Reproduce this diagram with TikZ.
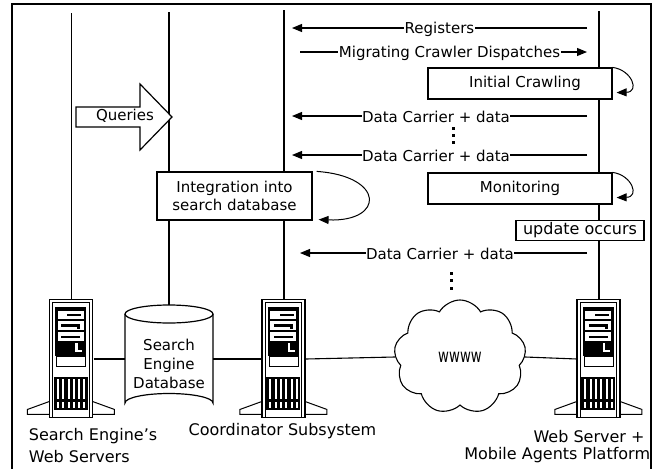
\documentclass[tikz,border=0pt]{standalone}
\usepackage{fontspec}
\setmainfont{DejaVu Sans}
\usetikzlibrary{arrows.meta,shapes.symbols,calc}
\tikzset{
  pics/serverpic/.style={code={
    % feet
    \draw[line width=1pt] (0,102) -- (-22,110) -- (-22,115) -- (0,115);
    \draw[line width=1pt] (43,102) -- (65,110) -- (65,115) -- (43,115);
    % case
    \draw[line width=1.2pt, fill=white] (0,0) rectangle (43,118);
    \draw[line width=0.9pt] (3.3,118) -- (3.3,3.3) -- (39.7,3.3) -- (39.7,118);
    % upper panel
    \fill (6,8) rectangle (37,57);
    \fill[white] (8.5,11.5) rectangle (34.5,20);
    \fill[white] (8.5,22) rectangle (34.5,30.5);
    \fill[white] (8.5,33) rectangle (34.5,41.5);
    \fill (18,14.5) rectangle (32,17);
    \fill (12,25) rectangle (31,27.5);
    \fill (28,27.5) rectangle (31,29.5);
    \fill (12,36.5) rectangle (31,39);
    \fill[white] (26,44) rectangle (28.5,53);
    \fill[white] (26,51) rectangle (33,53);
    \draw[line width=0.9pt, fill=white] (7,57) rectangle (36,67);
    % grille
    \fill (4.5,78) rectangle (38.5,111);
    \foreach \i in {0,...,5}{
      \fill[white] ({7.5+5.3*\i},80) rectangle ({9.5+5.3*\i},100);
      \fill[white] ({7.5+5.3*\i},103) rectangle ({9.5+5.3*\i},109);
    }
  }}
}
\begin{document}
\begin{tikzpicture}[x=1pt,y=-1pt, line width=1.1pt,
  lbl/.style={font=\fontsize{15}{18}\selectfont},
  bigl/.style={font=\fontsize{16}{22}\selectfont},
  holder/.style={draw=none, minimum width=43, minimum height=118, inner sep=0},
  box/.style={draw, fill=white, line width=1.2pt, lbl, inner sep=0pt, align=center},
  msg/.style={-{Triangle[length=10pt,width=8pt]}},
  tag/.style={lbl, fill=white, inner sep=0.6pt},
  loopar/.style={line width=1pt, -{Triangle[length=10pt,width=8pt]}}
]
\fill[white] (0,0) rectangle (654,469);
\useasboundingbox (0,0) rectangle (654,469);

% anchors for the big pieces
\node[holder] (srv1) at (71.5,359) {};
\node[holder] (srv2) at (284,359) {};
\node[holder] (srv3) at (599,359) {};
\coordinate (dbtop) at (169,305);
\coordinate (dbw) at (125,359);
\coordinate (dbe) at (213,359);

% lifelines
\coordinate (t1) at (71.5,13);
\coordinate (t2) at (169,12);
\coordinate (t3) at (284,10);
\coordinate (t4) at (599,11);
\draw (t1) -- (srv1.north);
\draw (t2) -- (dbtop);
\draw (t3) -- (srv2.north);
\draw (t4) -- (srv3.north);

% queries block arrow
\draw[line width=1.2pt, fill=white] (76,107) -- (140,107) -- (140,84) -- (172,117) -- (140,150) -- (140,127) -- (76,127) -- cycle;
\node[lbl] (q) at (125,116) {Queries};

% boxes
\node[box, minimum width=155, minimum height=48] (integ) at (234.5,196) {Integration into\\search database};
\node[box, minimum width=184, minimum height=31] (ic) at (520,83.5) {\hspace{10pt}Initial Crawling};
\node[box, minimum width=184, minimum height=31] (mon) at (520,188.5) {Monitoring};
\node[box, bigl, minimum width=128, minimum height=20] (upd) at (580,230.5) {update occurs};

% self loops
\draw[loopar] (ic.north east) .. controls (632,70) and (640,92) .. ($(ic.south east)+(4,-7)$);
\draw[loopar] (mon.north east) .. controls (632,175) and (640,197) .. ($(mon.south east)+(4,-7)$);
\draw[loopar] ($(integ.north east)+(4,0)$) .. controls (385,176) and (385,222) .. ($(integ.south east)+(6,-1)$);

% messages
\coordinate (r1) at (587,28);  \coordinate (r2) at (292,28);
\coordinate (m1) at (300,52);  \coordinate (m2) at (587,52);
\coordinate (d1a) at (587,116); \coordinate (d1b) at (292,116);
\coordinate (d2a) at (587,155); \coordinate (d2b) at (292,155);
\coordinate (d3a) at (587,253); \coordinate (d3b) at (300,253);
\draw[msg] (r1) -- node[tag, yshift=-1] {Registers} (r2);
\draw[msg] (m1) -- node[tag, xshift=6, yshift=-1] {Migrating Crawler Dispatches} (m2);
\draw[msg] (d1a) -- node[tag, xshift=-3.5, yshift=-1] {Data Carrier + data} (d1b);
\draw[msg] (d2a) -- node[tag, xshift=-3.5, yshift=-1] {Data Carrier + data} (d2b);
\draw[msg] (d3a) -- node[tag, xshift=-3.5, yshift=-1] {Data Carrier + data} (d3b);

% dots
\foreach \yy in {128,135,142}{\fill (451.5,\yy-1.5) rectangle (454.5,\yy+1.5);}
\foreach \yy in {273,280.5,288}{\fill (449.5,\yy-1.5) rectangle (452.5,\yy+1.5);}

% database cylinder
\draw[line width=1.2pt, fill=white] (125,314) -- (125,403) arc[start angle=180, end angle=360, x radius=44, y radius=9.5] -- (213,314);
\draw[line width=1.2pt, fill=white] (169,314) ellipse [x radius=44, y radius=9];
\node[lbl, align=center, font=\fontsize{15}{19}\selectfont] (db) at (169,364) {Search\\Engine\\Database};

% cloud
\node[cloud, draw, fill=white, line width=1.1pt, cloud puffs=9, cloud puff arc=120, cloud ignores aspect,
      minimum width=132, minimum height=114, inner sep=0] (www) at (460,357)
      {\fontsize{14}{14}\selectfont\scalebox{0.95}[1.35]{wwww}};

% servers
\pic at (srv1.north west) {serverpic};
\pic at (srv2.north west) {serverpic};
\pic at (srv3.north west) {serverpic};

% network links
\draw (srv1.east) -- (dbw);
\draw (dbe) -- (srv2.west);
\draw (srv2.east) -- (www.west);
\draw (www.east) -- (srv3.west);

% labels
\node[bigl, align=left, anchor=west] (lab1) at (25,446) {Search Engine's\\Web Servers};
\node[bigl] (lab2) at (282.5,431) {Coordinator Subsystem};
\node[bigl] (lab3) at (589,437) {Web Server +};
\node[bigl, anchor=east] (lab4) at (654,455) {Mobile Agents Platform};

% frame
\fill[white] (651.6,440) rectangle (654,469);
\draw[line width=1.3pt] (12,469) -- (12,4) -- (651,4) -- (651,469);
\end{tikzpicture}
\end{document}
